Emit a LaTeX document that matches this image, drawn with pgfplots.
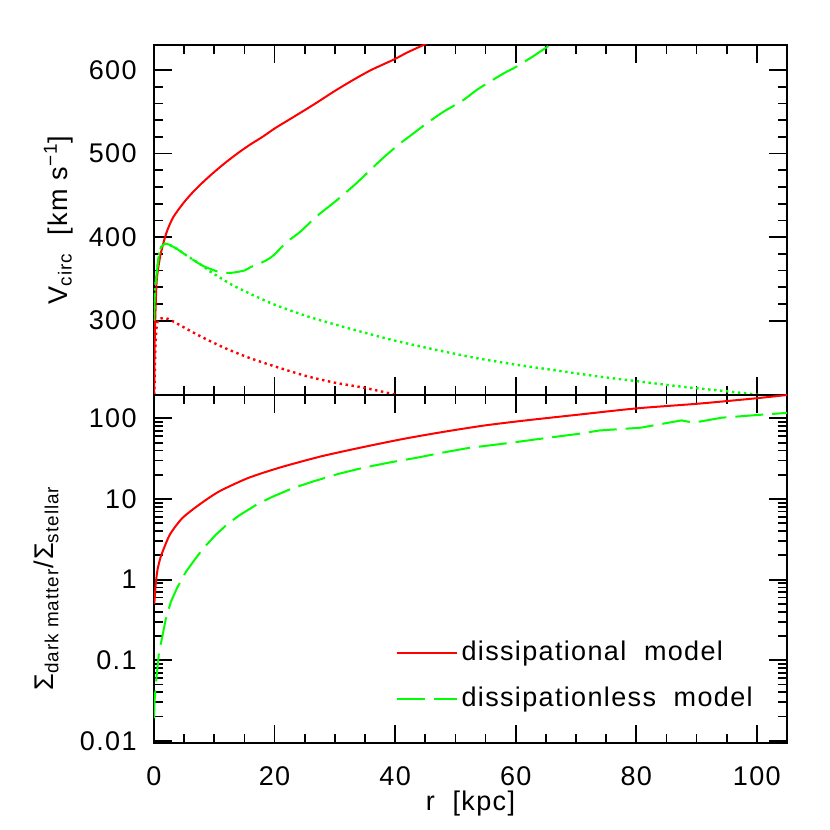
\documentclass[border=0pt]{standalone}
\usepackage{fontspec}
\setmainfont{Liberation Sans}[LetterSpace=5]
\usepackage{pgfplots}
\pgfplotsset{compat=1.18}
\pgfplotsset{
  panel/.style={
    scale only axis, width=316.5pt, xmin=0, xmax=105,
    xtick={0,20,40,60,80,100}, minor x tick num=3,
    tick align=inside, major tick length=9pt, minor tick length=4.5pt,
    axis line style={line width=0.9pt},
    every tick/.style={black, line width=0.9pt},
    yticklabel style={xshift=-4pt},
    xticklabel style={yshift=-7pt},
    clip=true,
  },
  solid line/.style={line width=1pt},
  long dash/.style={line width=1pt, dash pattern=on 14pt off 4.5pt},
  dots/.style={line width=1.2pt, dash pattern=on 1.2pt off 1.8pt},
}
\begin{document}
\fontsize{13.5}{16}\selectfont
\begin{tikzpicture}
\path[use as bounding box] (0,0) rectangle (415pt,415pt);
% ---------------- top panel ----------------
\begin{axis}[panel, height=175pt, at={(77pt,217.5pt)}, anchor=south west,
  ymin=211, ymax=630, ytick={300,400,500,600}, yticklabels={300,400,500,600},
  minor y tick num=4, xticklabels={},
  ylabel={V\textsubscript{circ}\ \ [km s\textsuperscript{−1}]},
  ylabel style={at={(axis description cs:-0.137,0.5)}, anchor=base},
]
% dissipational (red solid)
\addplot[red, solid line, smooth, tension=0.4] coordinates {
(0.02,211) (0.1,265) (0.2,300) (0.45,348) (1.0,376) (1.6,394) (2.2,408)
(3.2,424) (4.9,441) (6.6,455) (8.3,467) (10,478) (12,490) (14,501) (16,511)
(18,520) (20,530) (22.5,541) (25,552) (27,561) (30,575) (33,588) (36,600)
(39.9,613) (42,621) (44.7,630) (46,635)};
% dissipational dotted
\addplot[red, dots, smooth, tension=0.4] coordinates {
(0.05,211) (0.2,260) (0.4,290) (0.7,301) (1.5,303) (2.4,302) (4.7,293)
(7.5,282) (11.5,268) (15.6,256) (19.7,246) (25.1,234) (29.8,226) (34.6,220)
(39.7,212) (41,209)};
% dissipationless dashed
\addplot[green, long dash, smooth, tension=0.4] coordinates {
(0,300) (0.15,336) (0.5,360) (0.8,378) (1.2,388) (1.8,392) (2.5,391) (4,385)
(5.4,378) (8,366) (10.5,359) (12.5,357) (15,360) (16,364) (18.3,371)
(19.8,378) (22,394) (24.2,406) (27,425) (30.3,444) (33.5,464) (36.4,484)
(38.5,498) (40.8,512) (43,524) (45.2,536) (48,550) (51.3,564) (53.5,576)
(55.7,586) (58,596) (60.1,604) (63,617) (65.7,630) (67,636)};
% dissipationless dotted
\addplot[green, dots, smooth, tension=0.4] coordinates {
(0,300) (0.15,336) (0.5,360) (0.8,378) (1.2,388) (1.8,392) (2.5,391) (4,385)
(5.4,378) (8,366) (9.5,358) (12.9,343) (16.3,331) (19.7,320) (23.1,311)
(26.4,303) (33.2,289) (40,276) (46.8,265) (53.6,255) (60.3,247) (67.1,240)
(73.9,233) (80.7,227) (87.5,221) (94.2,216) (99.3,212) (101,210)};
\end{axis}
% ---------------- bottom panel ----------------
\begin{axis}[panel, height=174pt, at={(77pt,43.5pt)}, anchor=south west,
  ymode=log, ymin=0.0094, ymax=195,
  ytick={0.01,0.1,1,10,100}, yticklabels={0.01,0.1,1,10,100},
  minor ytick={0.02,0.03,0.04,0.05,0.06,0.07,0.08,0.09,
               0.2,0.3,0.4,0.5,0.6,0.7,0.8,0.9,
               2,3,4,5,6,7,8,9,20,30,40,50,60,70,80,90},
  xticklabels={0,20,40,60,80,100},
  xlabel={r\ \ [kpc]},
  xlabel style={at={(axis description cs:0.5,-0.195)}, anchor=base},
  ylabel={Σ\textsubscript{dark matter}/Σ\textsubscript{stellar}},
  ylabel style={at={(axis description cs:-0.158,0.445)}, anchor=base},
  legend image code/.code={\draw[#1] (0pt,0pt) -- (30pt,0pt);},
  legend cell align=left,
  legend style={draw=none, fill=none, inner sep=0pt,
    at={(axis description cs:0.381,0.193)}, anchor=west, row sep=7pt,
    /tikz/every even column/.append style={column sep=4pt}},
]
\addplot[red, solid line, smooth, tension=0.4] coordinates {
(0.05,0.5) (0.3,0.9) (0.6,1.35) (1.1,1.9) (1.7,2.5) (2.7,3.7) (4.7,5.8)
(7.5,8.5) (10.8,12.4) (15.6,18.2) (21,24.7) (27.8,33.9) (34.6,43.9)
(41.4,55.7) (48.1,68.2) (54.9,81.8) (61.7,94.4) (69.8,110) (80,133)
(90.2,152) (99.7,177) (105,195)};
\addlegendentry{dissipational~~model}
\addplot[green, long dash] coordinates {
(0,0.019) (0.1,0.032) (0.44,0.064) (0.83,0.125) (1.4,0.20) (1.94,0.32)
(2.8,0.53) (3.8,0.78) (5.3,1.25) (6.9,1.83) (8.3,2.5) (10.2,3.57)
(12.2,4.9) (14.2,6.3) (17,8.5) (19.7,10.7) (23,13.6) (26.4,16.5) (30.5,20.4)
(34.6,24.3) (39,28.3) (43.4,32.3) (47.8,37.5) (52.2,43)
(59,49.6) (65,57) (70.5,64.4) (73.9,70.8) (80.7,76.6) (87.5,94.4)
(89.5,88.4) (94.2,102) (100,110) (105,117)};
\addlegendentry{dissipationless~~model}
\end{axis}
\end{tikzpicture}
\end{document}
